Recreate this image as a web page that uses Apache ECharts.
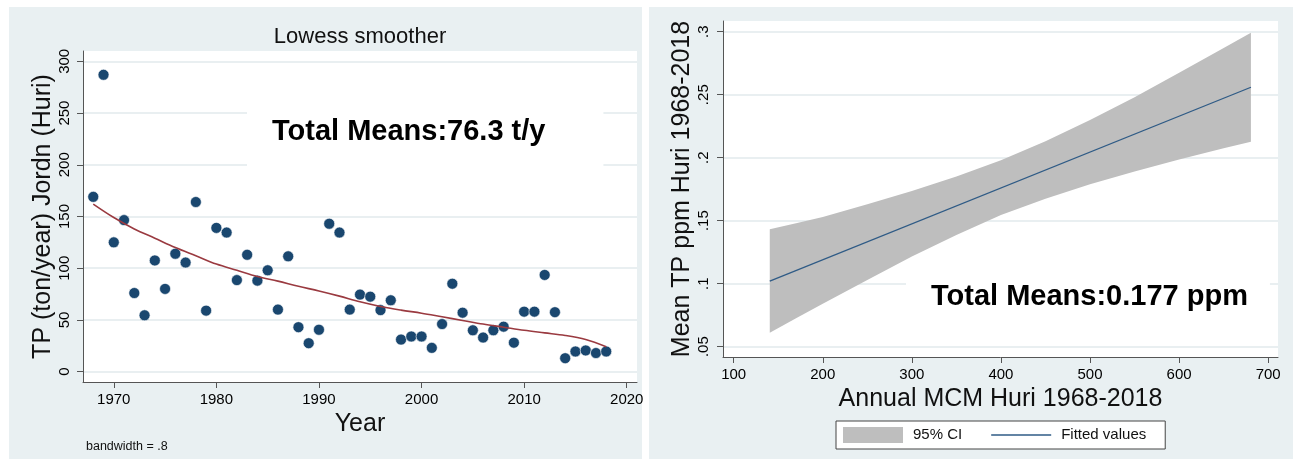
<!DOCTYPE html>
<html><head><meta charset="utf-8">
<script src="https://cdn.jsdelivr.net/npm/echarts@6/dist/echarts.min.js"></script>
<style>html,body{margin:0;padding:0;background:#fff;}#c{width:1293px;height:466px;}</style>
</head><body><div id="c"></div>
<script>
// ---------- Left panel data ----------
const years = [1968,1969,1970,1971,1972,1973,1974,1975,1976,1977,1978,1979,1980,1981,1982,1983,1984,1985,1986,1987,1988,1989,1990,1991,1992,1993,1994,1995,1996,1997,1998,1999,2000,2001,2002,2003,2004,2005,2006,2007,2008,2009,2010,2011,2012,2013,2014,2015,2016,2017,2018];
const tpValues = [169,287,125,146.5,76,54.5,107.5,80,114,105.5,164,59,139,134.5,88.5,113,88,98,60,111.5,43,27.5,40.5,143,134.5,60,74.5,72.5,59.5,69,31,34,34,23,46,85,57,40,33,40,43.5,28,58,58,93.5,57.5,13,19.5,20.5,18,19.5];
const lowessYears = [1968,1970,1972,1974,1976,1978,1980,1982,1984,1986,1988,1990,1992,1994,1996,1998,2000,2002,2004,2006,2008,2010,2012,2014,2016,2018];
const lowessValues = [162,149,138,129,120,112,104,98,92,87.5,82.5,78,73,67.5,63,59.5,56.5,53,49.5,46,43,40,37.5,35,31,24];
const leftXTicks = [1970,1980,1990,2000,2010,2020];
const leftYTicks = [0,50,100,150,200,250,300];

// ---------- Right panel data ----------
const ciX = [140.5,170,200,250,300,350,400,450,500,550,600,650,680.6];
const ciUpper = [0.1432,0.148,0.153,0.163,0.1735,0.185,0.198,0.213,0.230,0.248,0.2674,0.287,0.2992];
const ciLower = [0.0611,0.0725,0.084,0.103,0.1215,0.1386,0.1545,0.1675,0.179,0.189,0.1986,0.2074,0.2127];
const fitX = [140.5,680.6];
const fitY = [0.1021,0.2559];
const rightXTicks = [100,200,300,400,500,600,700];
const rightYTicks = [0.05,0.1,0.15,0.2,0.25,0.3];
const rightYTickLabels = ['.05','.1','.15','.2','.25','.3'];

const FONT = "'Liberation Sans', Arial, Helvetica, sans-serif";
const BG = '#e9f0f2';
const GRIDC = '#e2eaed';
const AXC = '#555';
const FIT_COLOR = '#2f5b86';

const chart = echarts.init(document.getElementById('c'), null, {renderer:'canvas'});

function axisCommon(){
  return {
    axisLine:{show:true,onZero:false,lineStyle:{color:AXC,width:1}},
    axisTick:{show:true,length:6,lineStyle:{color:AXC,width:1}},
    axisLabel:{color:'#000',fontSize:15,fontFamily:FONT},
    nameTextStyle:{color:'#111',fontSize:25,fontFamily:FONT},
    nameLocation:'middle'
  };
}

const lx = axisCommon(), ly = axisCommon(), rx = axisCommon(), ry = axisCommon();
const plain = v => String(v);

const option = {
  animation:false,
  backgroundColor:'#fff',
  textStyle:{fontFamily:FONT},
  grid:[
    {left:83, top:51, width:554, height:331, show:true, backgroundColor:'#fff', borderWidth:0, containLabel:false},
    {left:723, top:21, width:555, height:336, show:true, backgroundColor:'#fff', borderWidth:0, containLabel:false}
  ],
  xAxis:[
    Object.assign(lx,{type:'value',gridIndex:0,min:1967,max:2021,name:'Year',nameGap:27,
      axisTick:Object.assign(lx.axisTick,{customValues:leftXTicks}),
      axisLabel:Object.assign(lx.axisLabel,{customValues:leftXTicks,margin:10,formatter:plain}),
      splitLine:{show:false}}),
    Object.assign(rx,{type:'value',gridIndex:1,min:88,max:711,name:'Annual MCM Huri 1968-2018',nameGap:26,
      axisTick:Object.assign(rx.axisTick,{customValues:rightXTicks}),
      axisLabel:Object.assign(rx.axisLabel,{customValues:rightXTicks,margin:10,formatter:plain}),
      splitLine:{show:false}})
  ],
  yAxis:[
    Object.assign(ly,{type:'value',gridIndex:0,min:-10,max:310,name:'TP (ton/year) Jordn (Huri)',nameGap:22,
      axisTick:Object.assign(ly.axisTick,{customValues:leftYTicks}),
      axisLabel:Object.assign(ly.axisLabel,{customValues:leftYTicks,rotate:90,margin:11,formatter:plain}),
      splitLine:{show:true,lineStyle:{color:GRIDC,width:1.5}}}),
    Object.assign(ry,{type:'value',gridIndex:1,min:0.0418,max:0.3085,name:'Mean TP ppm Huri 1968-2018',nameGap:27,
      axisTick:Object.assign(ry.axisTick,{customValues:rightYTicks}),
      axisLabel:Object.assign(ry.axisLabel,{customValues:rightYTicks,rotate:90,margin:12,
        formatter:function(v){const i=rightYTicks.findIndex(t=>Math.abs(t-v)<1e-9);return i>=0?rightYTickLabels[i]:'';}}),
      splitLine:{show:true,lineStyle:{color:GRIDC,width:1.5}}})
  ],
  legend:{
    left:836, top:421, orient:'horizontal',
    itemWidth:60, itemHeight:16, itemGap:29,
    padding:[6,19,6,7],
    backgroundColor:'#fff', borderColor:'#444', borderWidth:1,
    textStyle:{fontSize:15,color:'#111',fontFamily:FONT,padding:[0,0,0,5]},
    data:[
      {name:'95% CI',icon:'rect',itemStyle:{color:'#bebebe'}},
      {name:'Fitted values',icon:'path://M0,0H60V1.3H0Z',itemStyle:{color:FIT_COLOR}}
    ]
  },
  series:[
    {type:'scatter',xAxisIndex:0,yAxisIndex:0,name:'TP',
      data:years.map((y,i)=>[y,tpValues[i]]),
      symbol:'circle',symbolSize:11,clip:false,
      itemStyle:{color:'#1a476f',borderColor:'#ffffff',borderWidth:0.6,opacity:1},z:3},
    {type:'line',xAxisIndex:0,yAxisIndex:0,name:'Lowess',
      data:lowessYears.map((y,i)=>[y,lowessValues[i]]),
      showSymbol:false,symbol:'none',smooth:0.35,
      lineStyle:{color:'#9a3a40',width:1.6},z:4},
    {type:'custom',xAxisIndex:1,yAxisIndex:1,name:'95% CI',
      data:[[ciX[0],ciUpper[0]]],
      itemStyle:{color:'#bebebe'},
      renderItem:function(params,api){
        const pts=[];
        for(let i=0;i<ciX.length;i++) pts.push(api.coord([ciX[i],ciUpper[i]]));
        for(let i=ciX.length-1;i>=0;i--) pts.push(api.coord([ciX[i],ciLower[i]]));
        return {type:'polygon',shape:{points:pts},style:{fill:'#bebebe'}};
      },z:2},
    {type:'line',xAxisIndex:1,yAxisIndex:1,name:'Fitted values',
      data:fitX.map((x,i)=>[x,fitY[i]]),
      symbol:'none',showSymbol:false,
      lineStyle:{color:FIT_COLOR,width:1.3},itemStyle:{color:FIT_COLOR},z:4}
  ],
  graphic:[
    {type:'rect',shape:{x:9,y:7,width:633,height:452},style:{fill:BG},z:-10,silent:true},
    {type:'rect',shape:{x:649,y:7,width:644,height:452},style:{fill:BG},z:-10,silent:true},
    {type:'text',x:360,y:37,style:{text:'Lowess smoother',font:'22px '+FONT,fill:'#111',align:'center',verticalAlign:'middle'},z:10},
    {type:'text',x:247,y:105,style:{text:'Total Means:76.3 t/y',font:'bold 29px '+FONT,fill:'#000',align:'left',verticalAlign:'top',backgroundColor:'#fff',padding:[12,58,25,25]},z:10},
    {type:'text',x:906,y:270,style:{text:'Total Means:0.177 ppm',font:'bold 29px '+FONT,fill:'#000',align:'left',verticalAlign:'top',backgroundColor:'#fff',padding:[12,22,12,25]},z:10},
    {type:'text',x:86,y:447,style:{text:'bandwidth = .8',font:'12.5px '+FONT,fill:'#111',align:'left',verticalAlign:'middle'},z:10}
  ]
};
chart.setOption(option);
</script></body></html>
